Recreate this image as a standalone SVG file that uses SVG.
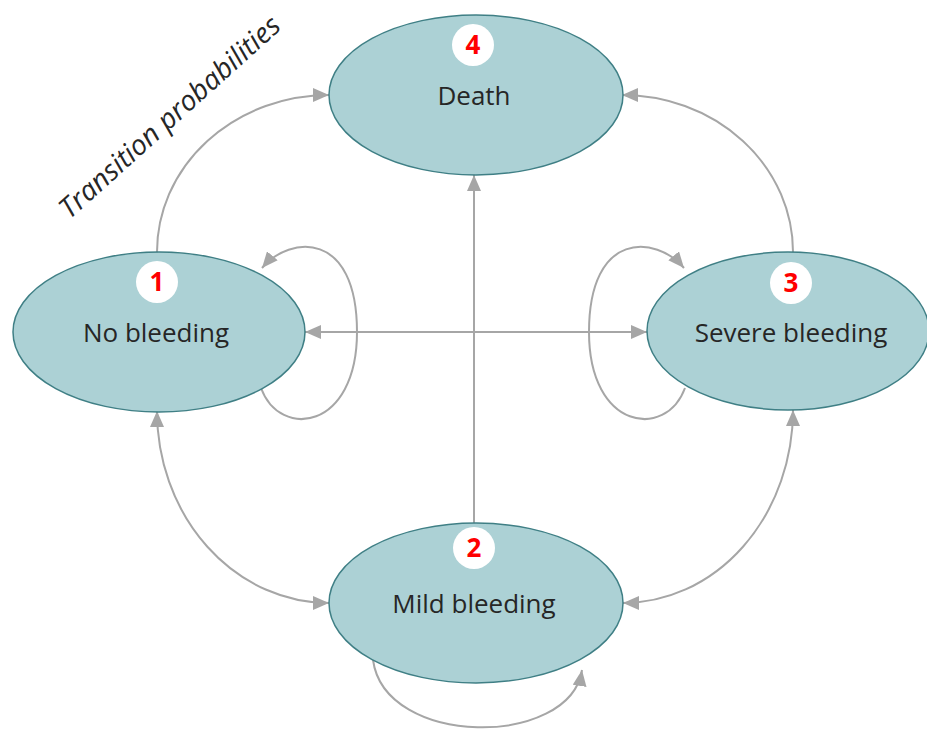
<svg xmlns="http://www.w3.org/2000/svg" width="927" height="732" viewBox="0 0 927 732">
<style>
.node ellipse{fill:#acd1d5;stroke:#3f7f85;stroke-width:1.5}
.badge{fill:#ffffff}
.num{font-family:"Open Sans","Liberation Sans",sans-serif;font-weight:bold;font-size:26px;fill:#ff0000;text-anchor:middle}
.lbl{font-family:"Open Sans","Liberation Sans",sans-serif;font-size:26px;fill:#262626;text-anchor:middle}
#connectors path{fill:none;stroke:#a6a6a6;stroke-width:2}
.title{font-family:"Open Sans","Liberation Sans",sans-serif;font-style:italic;font-size:28px;fill:#262626;text-anchor:middle}
</style>
<defs>
<marker id="arr" markerUnits="userSpaceOnUse" viewBox="0 0 16 14" refX="16" refY="7" markerWidth="16" markerHeight="14" orient="auto-start-reverse">
<path d="M0,0 L16,7 L0,14 z" fill="#a6a6a6"/>
</marker>
</defs>
<rect width="927" height="732" fill="#ffffff"/>
<text class="title" transform="translate(176,124) rotate(-42)">Transition probabilities</text>
<g id="connectors">
<path d="M157 252 A172 157 0 0 1 329 95" marker-end="url(#arr)"/>
<path d="M793 252 A171 157 0 0 0 622 95" marker-end="url(#arr)"/>
<path d="M157 411 A172 192 0 0 0 329 603" marker-start="url(#arr)" marker-end="url(#arr)"/>
<path d="M793 410 A170 193 0 0 1 623 603" marker-start="url(#arr)" marker-end="url(#arr)"/>
<path d="M474 523 L474 175" marker-end="url(#arr)"/>
<path d="M305 332 L647 332" marker-start="url(#arr)" marker-end="url(#arr)"/>
<path d="M261 388 C280 440 357 430 357 332 C357 230 290 235 262 268" marker-end="url(#arr)"/>
<path d="M685 388 C666 440 589 430 589 332 C589 230 656 235 684 268" marker-end="url(#arr)"/>
<path d="M373 660 C385 748 570 748 582 670" marker-end="url(#arr)"/>
</g>
<g id="node-death" class="node">
<ellipse cx="476" cy="95" rx="147" ry="80"/>
<circle class="badge" cx="473" cy="45" r="21"/>
<text class="num" x="473" y="54">4</text>
<text class="lbl" x="474" y="105">Death</text>
</g>
<g id="node-no-bleeding" class="node">
<ellipse cx="159" cy="332" rx="146" ry="80"/>
<circle class="badge" cx="157" cy="282" r="21"/>
<text class="num" x="157" y="291">1</text>
<text class="lbl" x="156" y="342">No bleeding</text>
</g>
<g id="node-severe" class="node">
<ellipse cx="788" cy="331" rx="141" ry="79"/>
<circle class="badge" cx="791" cy="283" r="21"/>
<text class="num" x="791" y="292">3</text>
<text class="lbl" x="791" y="342">Severe bleeding</text>
</g>
<g id="node-mild" class="node">
<ellipse cx="476" cy="603" rx="147" ry="80"/>
<circle class="badge" cx="474" cy="548" r="21"/>
<text class="num" x="474" y="557">2</text>
<text class="lbl" x="474" y="613">Mild bleeding</text>
</g>
</svg>
